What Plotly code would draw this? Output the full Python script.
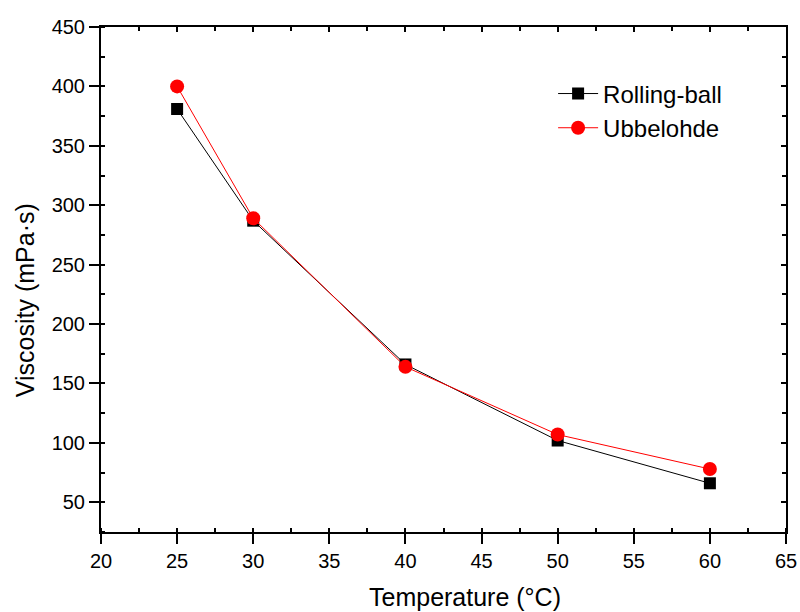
import plotly.graph_objects as go

temps = [25, 30, 40, 50, 60]
rolling_ball = [381, 287, 166, 102, 66]
ubbelohde = [400, 289, 164, 107, 78]

x_range = [20, 65]
y_range = [25, 450]
x_ticks = [20, 25, 30, 35, 40, 45, 50, 55, 60, 65]
y_ticks = [50, 100, 150, 200, 250, 300, 350, 400, 450]
x_title = "Temperature (°C)"
y_title = "Viscosity (mPa·s)"

font_family = "Liberation Sans, Arial, sans-serif"

fig = go.Figure()
fig.add_trace(go.Scatter(
    x=temps, y=rolling_ball, name="Rolling-ball", mode="lines+markers",
    line=dict(color="black", width=1),
    marker=dict(symbol="square", size=12, color="black"),
))
fig.add_trace(go.Scatter(
    x=temps, y=ubbelohde, name="Ubbelohde", mode="lines+markers",
    line=dict(color="red", width=1),
    marker=dict(symbol="circle", size=14, color="red"),
))

axis_common = dict(showgrid=False, zeroline=False, showline=True, linecolor="black",
                   linewidth=2, automargin=False)

fig.update_layout(
    width=800, height=612,
    margin=dict(l=101, r=14, t=27, b=80),
    plot_bgcolor="white", paper_bgcolor="white",
    font=dict(family=font_family, color="black"),
    showlegend=True,
    legend=dict(x=0.66, y=0.912, xanchor="left", yanchor="top",
                font=dict(size=24, family=font_family), bgcolor="rgba(0,0,0,0)",
                tracegroupgap=0, itemwidth=40),
    xaxis=dict(**axis_common, range=x_range, tickvals=x_ticks, ticks="outside",
               ticklen=10, tickwidth=2, tickcolor="black",
               tickfont=dict(size=20),
               minor=dict(dtick=2.5, ticks="inside", ticklen=4, tickwidth=1.5, tickcolor="black")),
    yaxis=dict(**axis_common, range=y_range, tickvals=y_ticks, ticks="outside",
               ticklen=10, tickwidth=2, tickcolor="black",
               tickfont=dict(size=20),
               minor=dict(dtick=25, tick0=0, ticks="inside", ticklen=4, tickwidth=1.5, tickcolor="black")),
    xaxis2=dict(**axis_common, range=x_range, tickvals=x_ticks, overlaying="x", side="top",
                ticks="inside", ticklen=5, tickwidth=1.5, tickcolor="black", showticklabels=False,
                minor=dict(dtick=2.5, ticks="inside", ticklen=4, tickwidth=1.5, tickcolor="black"),
                matches="x"),
    yaxis2=dict(**axis_common, range=y_range, tickvals=y_ticks, overlaying="y", side="right",
                ticks="inside", ticklen=5, tickwidth=1.5, tickcolor="black", showticklabels=False,
                minor=dict(dtick=25, tick0=0, ticks="inside", ticklen=4, tickwidth=1.5, tickcolor="black"),
                matches="y"),
    annotations=[
        dict(text=x_title, xref="paper", yref="paper", x=0.531, y=-0.129,
             xanchor="center", yanchor="middle", showarrow=False, font=dict(size=25)),
        dict(text=y_title, xref="paper", yref="paper", x=-0.111, y=0.459, textangle=-90,
             xanchor="center", yanchor="middle", showarrow=False, font=dict(size=25)),
    ],
)
# invisible trace so the mirror axes are drawn
fig.add_trace(go.Scatter(x=[None], y=[None], xaxis="x2", yaxis="y2", showlegend=False, hoverinfo="skip"))

fig.write_html("out.html")
